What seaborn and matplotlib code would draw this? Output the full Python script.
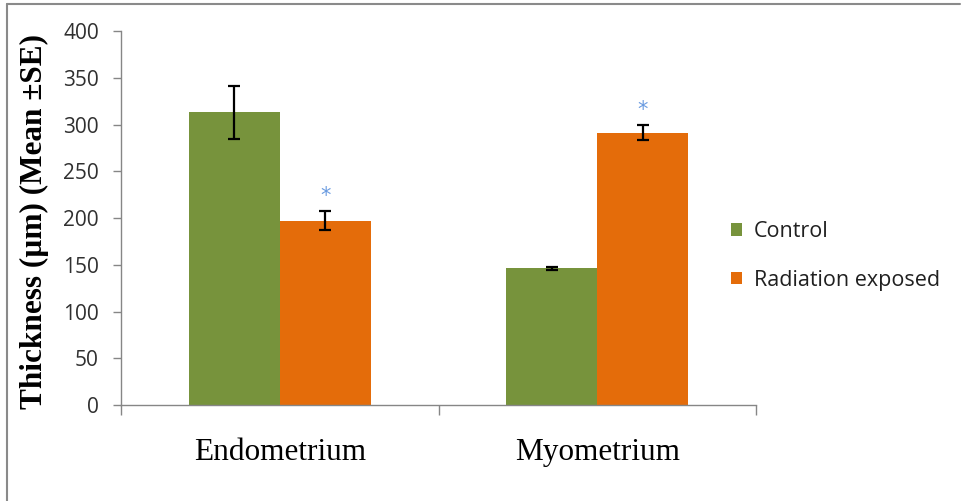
import matplotlib
matplotlib.use("Agg")
import matplotlib.pyplot as plt
from matplotlib.lines import Line2D
from matplotlib.ticker import FixedLocator
import seaborn as sns
import pandas as pd

# Uterine layer thickness (µm), mean ± SE
tissues = ["Endometrium", "Myometrium"]
groups = ["Control", "Radiation exposed"]
control_mean = [313, 146]
control_se = [28, 2]
exposed_mean = [197, 291]
exposed_se = [10, 8]
# rows marked as significantly different from control
significant = [False, True, False, True]

colors = {"Control": "#77933C", "Radiation exposed": "#E46C0A"}
star_color = "#6A9BE0"
axis_gray = "#868686"

df = pd.DataFrame({
    "tissue": tissues * 2,
    "group": [groups[0]] * 2 + [groups[1]] * 2,
    "mean": control_mean + exposed_mean,
    "se": control_se + exposed_se,
    "sig": significant[0::2] + significant[1::2],
})

sns.set_theme(style="white")
plt.rcParams["font.family"] = ["Open Sans", "DejaVu Sans"]

fig = plt.figure(figsize=(9.64, 5.01), dpi=100)
ax = fig.add_axes([121 / 964, 96 / 501, 635 / 964, 374 / 501])

sns.barplot(data=df, x="tissue", y="mean", hue="group", order=tissues,
            hue_order=groups, palette=colors, width=0.574, errorbar=None,
            saturation=1, edgecolor="none", linewidth=0, ax=ax)

# error bars and significance markers placed on the drawn bars
bars = [p for p in ax.patches if p.get_height() > 0]
order_rows = [(g, t) for g in groups for t in tissues]
for bar, (g, t) in zip(bars, order_rows):
    row = df[(df.group == g) & (df.tissue == t)].iloc[0]
    cx = bar.get_x() + bar.get_width() / 2
    ax.errorbar(cx, row["mean"], yerr=row["se"], fmt="none", ecolor="black",
                elinewidth=1.6, capsize=4, capthick=1.6, zorder=5)
    if row["sig"]:
        ax.text(cx, row["mean"] + row["se"] + 17, "*", color=star_color,
                ha="center", va="center", fontsize=15, family="DejaVu Sans")

ax.set_ylim(0, 400)
ax.set_xlim(-0.5, 1.5)
ax.set_yticks(range(0, 401, 50))

for side in ("top", "right"):
    ax.spines[side].set_visible(False)
for side in ("left", "bottom"):
    ax.spines[side].set_color(axis_gray)
    ax.spines[side].set_linewidth(1.0)

ax.tick_params(axis="y", which="major", direction="out", length=6, width=1,
               color=axis_gray, labelsize=15, labelcolor="#303030", pad=10,
               left=True)
ax.tick_params(axis="x", which="major", length=0, pad=24)
ax.xaxis.set_minor_locator(FixedLocator([-0.5, 0.5, 1.5]))
ax.tick_params(axis="x", which="minor", direction="out", length=7, width=1,
               color=axis_gray, bottom=True)
for lab in ax.get_xticklabels():
    lab.set_family("Liberation Serif")
    lab.set_fontsize(22.5)
    lab.set_color("black")

ax.set_xlabel("")
ax.set_ylabel("Thickness (µm) (Mean ±SE)", family="Liberation Serif",
              fontweight="bold", fontsize=22.5, color="black")
ax.yaxis.set_label_coords(-0.113, 0.49)

leg = ax.legend(loc="center left", bbox_to_anchor=(731 / 964, 1 - 256 / 501),
                bbox_transform=fig.transFigure, frameon=False, fontsize=15.5,
                handlelength=0.5, handleheight=0.5, handletextpad=0.55,
                labelspacing=1.3, borderaxespad=0, borderpad=0)
for t in leg.get_texts():
    t.set_color("#202020")

# outer frame edges
fig.add_artist(Line2D([7 / 964, 7 / 964], [0, 1 - 4 / 501],
                      transform=fig.transFigure, color="#8a8a8a", lw=1.5))
fig.add_artist(Line2D([7 / 964, 960 / 964], [1 - 4 / 501, 1 - 4 / 501],
                      transform=fig.transFigure, color="#8a8a8a", lw=1.5))

fig.savefig("out.png", dpi=100)
